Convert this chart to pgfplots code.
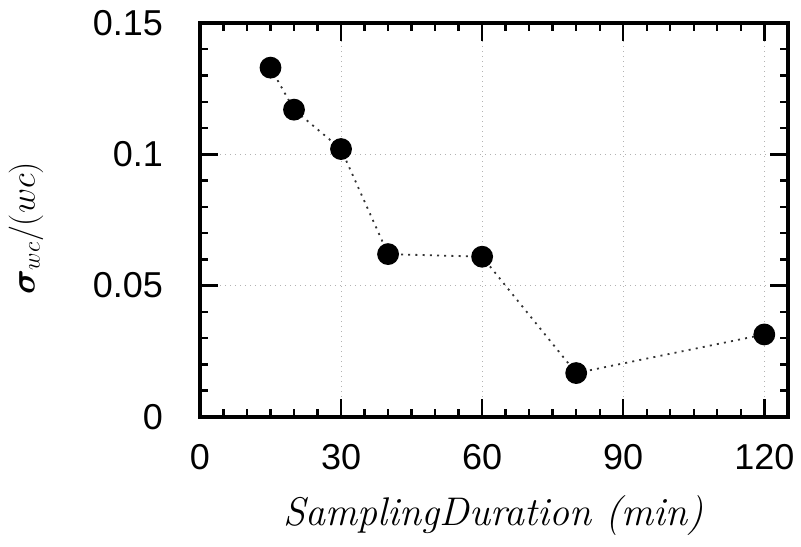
\documentclass[border=0pt]{standalone}
\usepackage{pgfplots}
\pgfplotsset{compat=1.18}
\usepackage{bm}
\usepackage{fontspec}
\setsansfont{Liberation Sans}

\begin{document}
\begin{tikzpicture}
\begin{axis}[
    name=ax,
    scale only axis,
    width=294pt, height=197pt,
    xmin=0, xmax=125,
    ymin=0, ymax=0.15,
    xtick={0,30,60,90,120},
    ytick={0,0.05,0.1,0.15},
    minor xtick={5,10,15,20,25,35,40,45,50,55,65,70,75,80,85,95,100,105,110,115},
    minor ytick={0.01,0.02,0.03,0.04,0.06,0.07,0.08,0.09,0.11,0.12,0.13,0.14},
    tick align=inside,
    major tick length=9pt,
    minor tick length=4pt,
    every tick/.style={black, line width=1.2pt},
    axis line style={line width=2pt},
    xmajorgrids=true, ymajorgrids=true,
    grid style={gray!60, line width=0.5pt, dotted},
    /pgf/number format/assume math mode=true,
    /pgf/number format/fixed,
    /pgf/number format/precision=2,
    ticklabel style={font=\sffamily\fontsize{18}{20}\selectfont},
    xticklabel style={yshift=-10pt},
    yticklabel style={xshift=-15pt},
    xlabel={\itshape SamplingDuration (min)},
    xlabel style={font=\fontsize{20}{24}\selectfont, yshift=-6pt},
    ylabel={$\bm{\sigma}_{wc}/(wc)$},
    ylabel style={font=\fontsize{18}{22}\selectfont, yshift=18pt, xshift=-4pt},
]
\addplot[
    color=black!80,
    line width=0.9pt,
    dash pattern=on 1pt off 2.6pt,
    mark=*,
    mark size=5pt,
    mark options={solid, fill=black, draw=black},
    ]
    coordinates {
    (15,0.133)
    (20,0.117)
    (30,0.102)
    (40,0.062)
    (60,0.061)
    (80,0.0167)
    (120,0.0314)
    };
\end{axis}
\path ([xshift=-100pt,yshift=-65pt]ax.south west) rectangle ([xshift=6.5pt,yshift=11.5pt]ax.north east);
\end{tikzpicture}
\end{document}
